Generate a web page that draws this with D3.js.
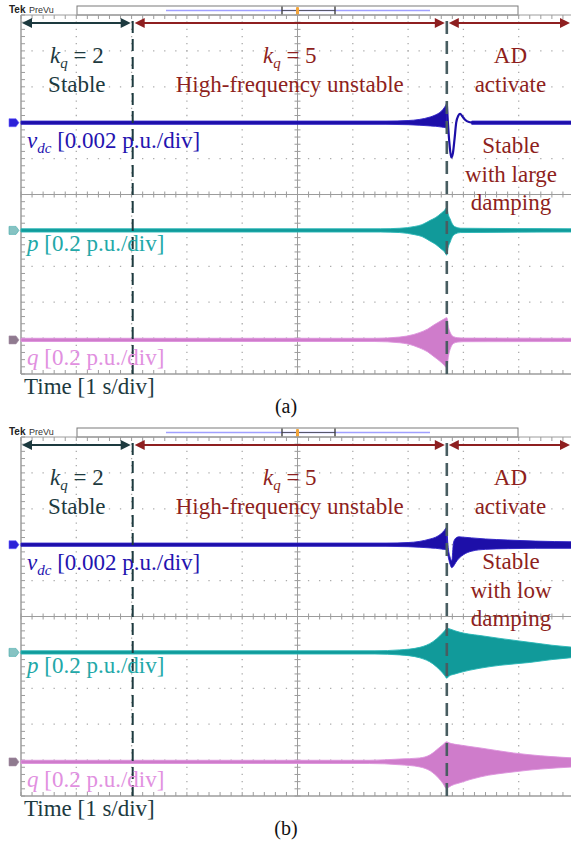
<!DOCTYPE html>
<html><head><meta charset="utf-8">
<script src="https://cdn.jsdelivr.net/npm/d3@7"></script>
<style>body{margin:0;background:#fff}svg{display:block}</style>
</head><body>
<script>
// ---------- DATA (time in s = div, amplitude in vertical divisions) ----------
const eventTimes = [2.02, 7.7];               // k_q switch, AD activation
const channelOffsets = [2.0, -1.0, -4.05];    // vdc, p, q trace offsets (div)
const gainValues = ["2", "5"];
const regionStates = ["Stable", "High-frequency unstable", "AD", "activate"];
const outcomeA = ["Stable", "with large", "damping"];
const outcomeB = ["Stable", "with low", "damping"];
const channelScales = ["0.002", "0.2", "0.2"];
const timeScale = "1";
const panelTags = ["(a)", "(b)"];

// Panel (a)
const vdcA_t  = [0, 6.6, 7.0, 7.2, 7.4, 7.5, 7.6, 7.65, 7.7];
const vdcA_hi = [0.045, 0.045, 0.06, 0.09, 0.16, 0.22, 0.32, 0.41, 0.53];
const vdcA_lo = [-0.045, -0.045, -0.055, -0.07, -0.09, -0.1, -0.12, -0.13, -0.15];
const vdcA_tr_t = [7.7, 7.72, 7.75, 7.78, 7.81, 7.84, 7.87, 7.91, 7.94, 7.98, 8.03, 8.1, 8.2];
const vdcA_tr_v = [0.53, 0.0, -0.62, -0.97, -0.85, -0.45, 0.0, 0.2, 0.25, 0.18, 0.08, 0.02, 0];
const vdcA_post_t = [8.15, 10];
const vdcA_post_hi = [0.045, 0.045];
const vdcA_post_lo = [-0.045, -0.045];

const pA_t  = [0, 6.5, 6.85, 7.12, 7.25, 7.4, 7.5, 7.6, 7.66, 7.7, 7.72, 7.76, 7.8, 7.85, 7.95, 10];
const pA_hi = [0.045, 0.045, 0.06, 0.11, 0.16, 0.28, 0.36, 0.48, 0.56, 0.64, 0.48, 0.32, 0.18, 0.1, 0.06, 0.045];
const pA_lo = [-0.045, -0.045, -0.06, -0.12, -0.17, -0.3, -0.39, -0.52, -0.6, -0.69, -0.5, -0.33, -0.18, -0.1, -0.06, -0.045];

const qA_t  = [0, 6.4, 6.85, 7.1, 7.2, 7.35, 7.47, 7.58, 7.65, 7.7, 7.73, 7.77, 7.82, 7.9, 8.0, 10];
const qA_hi = [0.045, 0.045, 0.08, 0.15, 0.2, 0.3, 0.42, 0.52, 0.58, 0.62, 0.35, 0.18, 0.09, 0.06, 0.05, 0.045];
const qA_lo = [-0.045, -0.045, -0.08, -0.16, -0.22, -0.33, -0.47, -0.6, -0.7, -0.78, -0.45, -0.22, -0.1, -0.06, -0.05, -0.045];

// Panel (b)
const vdcB_t  = [0, 6.6, 7.0, 7.2, 7.4, 7.5, 7.6, 7.65, 7.7];
const vdcB_hi = [0.045, 0.045, 0.06, 0.09, 0.16, 0.21, 0.31, 0.39, 0.5];
const vdcB_lo = [-0.045, -0.045, -0.055, -0.07, -0.09, -0.1, -0.12, -0.13, -0.14];
const vdcB_tr_t  = [7.7, 7.72, 7.76, 7.79, 7.82, 7.86, 7.92, 8.0, 8.15, 8.4, 8.8, 9.3, 10];
const vdcB_tr_hi = [0.5, 0.0, -0.35, -0.45, 0.05, 0.18, 0.22, 0.21, 0.19, 0.16, 0.13, 0.1, 0.08];
const vdcB_tr_lo = [-0.14, -0.3, -0.55, -0.64, -0.6, -0.5, -0.38, -0.28, -0.18, -0.13, -0.11, -0.1, -0.1];

const pB_t  = [0, 6.4, 6.85, 7.21, 7.45, 7.58, 7.66, 7.7, 7.74, 7.85, 7.94, 8.1, 8.3, 8.66, 9.2, 9.6, 10];
const pB_hi = [0.045, 0.045, 0.07, 0.14, 0.3, 0.47, 0.6, 0.67, 0.66, 0.6, 0.56, 0.51, 0.47, 0.39, 0.28, 0.2, 0.14];
const pB_lo = [-0.045, -0.045, -0.07, -0.15, -0.32, -0.5, -0.64, -0.72, -0.66, -0.6, -0.56, -0.5, -0.44, -0.36, -0.28, -0.2, -0.14];

const qB_t  = [0, 6.3, 6.85, 7.21, 7.4, 7.55, 7.63, 7.7, 7.74, 7.94, 8.3, 8.9, 9.4, 10];
const qB_hi = [0.045, 0.045, 0.08, 0.11, 0.2, 0.38, 0.48, 0.56, 0.53, 0.47, 0.39, 0.25, 0.17, 0.11];
const qB_lo = [-0.045, -0.045, -0.08, -0.14, -0.25, -0.45, -0.6, -0.75, -0.7, -0.58, -0.42, -0.28, -0.2, -0.14];

// ---------- DRAWING ----------
const W = 571, H = 844;
const svg = d3.select("body").append("svg").attr("width", W).attr("height", H);
svg.append("rect").attr("width", W).attr("height", H).attr("fill", "#fff");

const SERIF = "'Liberation Serif','Times New Roman',serif";
const SANS = "'Liberation Sans',Arial,sans-serif";
const COL = {
  dark: "#1d3a3f", red: "#8e1f20",
  vdc: "#1d0fa8", vdcEdge: "#2d1fc4", vdcText: "#2413b0",
  p: "#119a9a", pEdge: "#27b6b6", pText: "#22a8a8",
  q: "#cf7ccb", qEdge: "#dc92dc", qText: "#e190e0",
  grid: "#ababab", axis: "#9c9c9c"
};

function zip(t, hi, lo) { return t.map((v, i) => ({ t: v, hi: hi[i], lo: lo[i] })); }

function drawPanel(oy, cfg) {
  const x = d3.scaleLinear().domain([0, 10]).range([21, 574]);
  const y = d3.scaleLinear().domain([-5, 5]).range([374 + oy, 15 + oy]);
  const g = svg.append("g");

  // header
  const hdr = g.append("g");
  hdr.append("text").attr("x", 9).attr("y", 13 + oy).attr("font-family", SANS)
    .attr("font-weight", "bold").attr("font-size", 10).attr("fill", "#222").text("Tek");
  hdr.append("text").attr("x", 29).attr("y", 13 + oy).attr("font-family", SANS)
    .attr("font-size", 9).attr("fill", "#333").text("PreVu");
  hdr.append("rect").attr("x", 77).attr("y", 6 + oy).attr("width", 441).attr("height", 9)
    .attr("fill", "#fff").attr("stroke", "#7a7a7a").attr("stroke-width", 1);
  hdr.append("line").attr("x1", 166).attr("x2", 430).attr("y1", 10.5 + oy).attr("y2", 10.5 + oy)
    .attr("stroke", "#a0a0ff").attr("stroke-width", 1.6);
  [282, 335].forEach(px => hdr.append("line").attr("x1", px).attr("x2", px)
    .attr("y1", 6.5 + oy).attr("y2", 14.5 + oy).attr("stroke", "#333").attr("stroke-width", 1.3));
  hdr.append("line").attr("x1", 282).attr("x2", 335).attr("y1", 10.5 + oy).attr("y2", 10.5 + oy)
    .attr("stroke", "#444").attr("stroke-width", 0.8);
  hdr.append("rect").attr("x", 296).attr("y", 7 + oy).attr("width", 3).attr("height", 8)
    .attr("rx", 1).attr("fill", "#f2a43a");

  // grid
  const stepYpx = (y(-5) - y(5)) / 50, stepXpx = (x(10) - x(0)) / 50;
  const majX = d3.range(1, 10).filter(v => v !== 5);
  const majY = d3.range(-4, 5).filter(v => v !== 0);
  g.append("g").selectAll("line").data(majX).join("line")
    .attr("x1", d => x(d)).attr("x2", d => x(d)).attr("y1", y(5)).attr("y2", y(-5))
    .attr("stroke", COL.grid).attr("stroke-width", 1.3)
    .attr("stroke-dasharray", `1.3 ${stepYpx - 1.3}`).attr("stroke-dashoffset", 0.65);
  g.append("g").selectAll("line").data(majY).join("line")
    .attr("y1", d => y(d)).attr("y2", d => y(d)).attr("x1", x(0)).attr("x2", x(10))
    .attr("stroke", COL.grid).attr("stroke-width", 1.3)
    .attr("stroke-dasharray", `1.3 ${stepXpx - 1.3}`).attr("stroke-dashoffset", 0.65);

  // axes & borders
  const ax = g.append("g").attr("stroke", COL.axis).attr("stroke-width", 1);
  ax.append("line").attr("x1", x(0)).attr("x2", x(10)).attr("y1", y(0)).attr("y2", y(0));
  ax.append("line").attr("x1", x(5)).attr("x2", x(5)).attr("y1", y(5)).attr("y2", y(-5));
  ax.append("line").attr("x1", x(0)).attr("x2", x(0)).attr("y1", y(5)).attr("y2", y(-5)).attr("stroke-width", 1.5);
  ax.append("line").attr("x1", x(0)).attr("x2", x(10)).attr("y1", y(-5)).attr("y2", y(-5)).attr("stroke-width", 1.5);
  ax.append("line").attr("x1", x(0)).attr("x2", x(10)).attr("y1", y(5)).attr("y2", y(5));
  const minX = d3.range(0, 50.5).map(i => i / 5), minY = d3.range(0, 50.5).map(i => -5 + i / 5);
  ax.append("g").selectAll("line").data(minX).join("line")
    .attr("x1", d => x(d)).attr("x2", d => x(d)).attr("y1", y(0) - 3).attr("y2", y(0) + 3);
  ax.append("g").selectAll("line").data(minY).join("line")
    .attr("y1", d => y(d)).attr("y2", d => y(d)).attr("x1", x(5) - 3).attr("x2", x(5) + 3);
  ax.append("g").selectAll("line").data(minY).join("line")
    .attr("y1", d => y(d)).attr("y2", d => y(d)).attr("x1", x(0)).attr("x2", x(0) + 4);
  ax.append("g").selectAll("line").data(minX).join("line")
    .attr("x1", d => x(d)).attr("x2", d => x(d)).attr("y1", y(-5)).attr("y2", y(-5) - 4);
  ax.append("g").selectAll("line").data(minX).join("line")
    .attr("x1", d => x(d)).attr("x2", d => x(d)).attr("y1", y(5)).attr("y2", y(5) + 4);

  // traces
  const band = (data, off, fill, edge) => {
    const a = d3.area().curve(d3.curveMonotoneX).x(d => x(d.t))
      .y0(d => y(off + d.lo)).y1(d => y(off + d.hi));
    g.append("path").datum(data).attr("d", a).attr("fill", fill)
      .attr("stroke", edge).attr("stroke-width", 0.9).attr("stroke-linejoin", "round");
  };
  band(zip(cfg.q[0], cfg.q[1], cfg.q[2]), channelOffsets[2], COL.q, COL.qEdge);
  band(zip(cfg.p[0], cfg.p[1], cfg.p[2]), channelOffsets[1], COL.p, COL.pEdge);
  band(zip(cfg.vdc[0], cfg.vdc[1], cfg.vdc[2]), channelOffsets[0], COL.vdc, COL.vdcEdge);
  if (cfg.vdcPost) band(zip(cfg.vdcPost[0], cfg.vdcPost[1], cfg.vdcPost[2]), channelOffsets[0], COL.vdc, COL.vdcEdge);
  if (cfg.vdcLine) {
    const ln = d3.line().curve(d3.curveMonotoneX).x((d, i) => x(cfg.vdcLine[0][i])).y(d => y(channelOffsets[0] + d));
    g.append("path").datum(cfg.vdcLine[1]).attr("d", ln).attr("fill", "none")
      .attr("stroke", COL.vdc).attr("stroke-width", 2.2);
  }

  // channel markers
  const mk = [[channelOffsets[0], "#2b20d8", "#6a60ff"], [channelOffsets[1], "#86c3c3", "#4aa"], [channelOffsets[2], "#8f7a8f", "#a38ca3"]];
  mk.forEach(([off, f, s]) => {
    const cy = y(off);
    g.append("path").attr("d", `M9,${cy - 4}L16,${cy - 4}L19,${cy}L16,${cy + 4}L9,${cy + 4}Z`)
      .attr("fill", f).attr("stroke", s).attr("stroke-width", 0.6);
  });

  // event dashed lines
  g.append("line").attr("x1", x(eventTimes[0])).attr("x2", x(eventTimes[0]))
    .attr("y1", 21 + oy).attr("y2", y(-5)).attr("stroke", COL.dark).attr("stroke-width", 2)
    .attr("stroke-dasharray", "12 6");
  g.append("line").attr("x1", x(eventTimes[1])).attr("x2", x(eventTimes[1]))
    .attr("y1", 21 + oy).attr("y2", y(-5)).attr("stroke", "#485d61").attr("stroke-width", 2.6)
    .attr("stroke-dasharray", "13 7");

  // arrows
  const ay = 23 + oy;
  const head = (tipX, dir, col) => g.append("path")
    .attr("d", `M${tipX},${ay}L${tipX - dir * 10},${ay - 5}L${tipX - dir * 10},${ay + 5}Z`).attr("fill", col);
  const arrow = (x1, x2, col, left, right) => {
    g.append("line").attr("x1", x1 + (left ? 6 : 0)).attr("x2", x2 - (right ? 6 : 0))
      .attr("y1", ay).attr("y2", ay).attr("stroke", col).attr("stroke-width", 2.2);
    if (left) head(x1, -1, col);
    if (right) head(x2, 1, col);
  };
  arrow(x(0) + 1, x(eventTimes[0]) - 2, COL.dark, true, true);
  arrow(x(eventTimes[0]) + 2, x(eventTimes[1]) - 2, COL.red, true, true);
  arrow(x(eventTimes[1]) + 2, 570, COL.red, true, true);

  // region texts
  const cx = [(0 + eventTimes[0]) / 2, (eventTimes[0] + eventTimes[1]) / 2, (eventTimes[1] + 10) / 2].map(x);
  const kq = (px, val, col) => {
    const t = g.append("text").attr("x", px).attr("y", 63 + oy).attr("text-anchor", "middle")
      .attr("font-family", SERIF).attr("font-size", 23).attr("fill", col);
    t.append("tspan").attr("font-style", "italic").text("k");
    t.append("tspan").attr("font-style", "italic").attr("font-size", 15).attr("dy", 5).text("q");
    t.append("tspan").attr("dy", -5).text(" = " + val);
  };
  kq(cx[0], gainValues[0], COL.dark);
  kq(cx[1], gainValues[1], COL.red);
  const plain = (px, py, s, col, size = 23, anchor = "middle") => g.append("text").attr("x", px).attr("y", py)
    .attr("text-anchor", anchor).attr("font-family", SERIF).attr("font-size", size).attr("fill", col).text(s);
  plain(cx[0], 92 + oy, regionStates[0], COL.dark);
  plain(cx[1], 92 + oy, regionStates[1], COL.red);
  plain(cx[2], 63 + oy, regionStates[2], COL.red);
  plain(cx[2], 92 + oy, regionStates[3], COL.red);
  cfg.outcome.forEach((s, i) => plain(511, cfg.outY + i * 28.5 + oy, s, COL.red));

  // channel labels
  const lv = g.append("text").attr("x", 27).attr("y", 148 + oy).attr("font-family", SERIF)
    .attr("font-size", 23).attr("fill", COL.vdcText);
  lv.append("tspan").attr("font-style", "italic").text("v");
  lv.append("tspan").attr("font-style", "italic").attr("font-size", 15).attr("dy", 5).text("dc");
  lv.append("tspan").attr("dy", -5).text(` [${channelScales[0]} p.u./div]`);
  [["p", channelScales[1], 251, COL.pText], ["q", channelScales[2], 365, COL.qText]].forEach(([n, sc, py, col]) => {
    const t = g.append("text").attr("x", 27).attr("y", py + oy).attr("font-family", SERIF)
      .attr("font-size", 23).attr("fill", col);
    t.append("tspan").attr("font-style", "italic").text(n);
    t.append("tspan").text(` [${sc} p.u./div]`);
  });
  plain(24, 394 + oy, `Time [${timeScale} s/div]`, COL.dark, 23, "start");
  plain(286, 413 + oy, cfg.tag, "#111", 20);
}

drawPanel(0, {
  vdc: [vdcA_t, vdcA_hi, vdcA_lo], vdcLine: [vdcA_tr_t, vdcA_tr_v],
  vdcPost: [vdcA_post_t, vdcA_post_hi, vdcA_post_lo],
  p: [pA_t, pA_hi, pA_lo], q: [qA_t, qA_hi, qA_lo],
  outcome: outcomeA, outY: 153, tag: panelTags[0]
});
drawPanel(422, {
  vdc: [vdcB_t, vdcB_hi, vdcB_lo], vdcPost: [vdcB_tr_t, vdcB_tr_hi, vdcB_tr_lo],
  p: [pB_t, pB_hi, pB_lo], q: [qB_t, qB_hi, qB_lo],
  outcome: outcomeB, outY: 147, tag: panelTags[1]
});
</script>
</body></html>
